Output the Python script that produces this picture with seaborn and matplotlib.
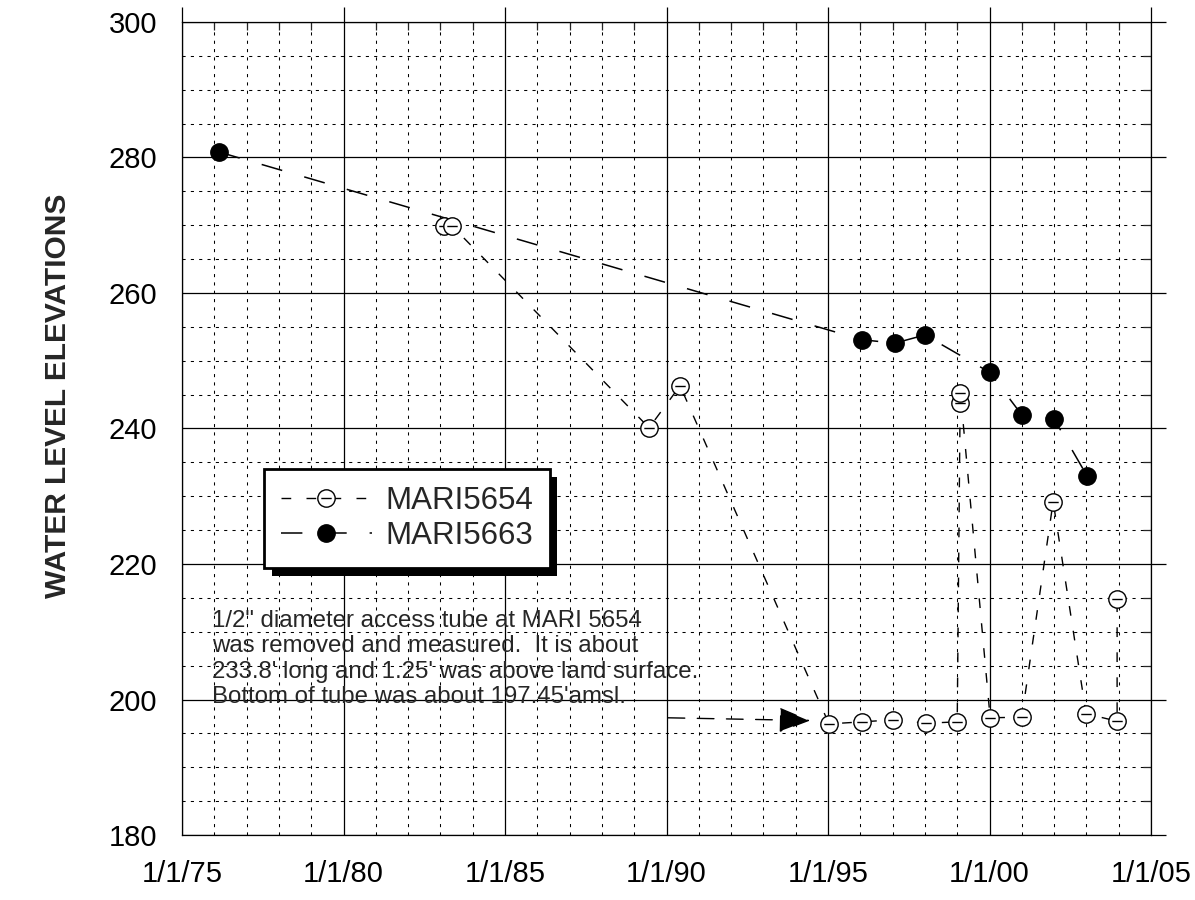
import numpy as np
import pandas as pd
import seaborn as sns
import matplotlib.pyplot as plt
from matplotlib.path import Path
from matplotlib.ticker import MultipleLocator
import matplotlib.patheffects as pe

# Data (decimal years, feet amsl)
well_5654_year = [1983.11, 1983.36, 1989.46, 1990.42, 1995.03, 1996.05, 1997.01,
                  1998.03, 1999.00, 1999.09, 1999.10, 2000.02, 2001.00, 2001.97,
                  2002.99, 2003.95, 2003.95]
well_5654_level = [269.9, 269.9, 240.1, 246.3, 196.4, 196.7, 197.0,
                   196.5, 196.7, 243.8, 245.2, 197.3, 197.4, 229.2,
                   197.9, 196.8, 214.8]

well_5663_year = [1976.15, 1996.05, 1997.07, 1998.00, 2000.00, 2001.00, 2002.00, 2003.02]
well_5663_level = [280.8, 253.1, 252.6, 253.8, 248.3, 242.0, 241.4, 233.0]

x_ticks = [1975, 1980, 1985, 1990, 1995, 2000, 2005]
x_tick_labels = ['1/1/75', '1/1/80', '1/1/85', '1/1/90', '1/1/95', '1/1/00', '1/1/05']
y_ticks = [180, 200, 220, 240, 260, 280, 300]

note = ("1/2\" diameter access tube at MARI 5654\n"
        "was removed and measured.  It is about\n"
        "233.8' long and 1.25' was above land surface.\n"
        "Bottom of tube was about 197.45'amsl.")

sns.set_style('white')
plt.rcParams['font.family'] = ['Liberation Sans', 'DejaVu Sans']

df5654 = pd.DataFrame({'year': well_5654_year, 'level': well_5654_level})
df5663 = pd.DataFrame({'year': well_5663_year, 'level': well_5663_level})

# circle with a bar through it
theta_marker = Path.make_compound_path(
    Path.unit_circle(),
    Path([[-0.6, 0.0], [0.6, 0.0]], [Path.MOVETO, Path.LINETO]))

fig = plt.figure(figsize=(11.95, 9), dpi=100)
ax = fig.add_axes([0.1523, 0.0722, 0.8109, 0.9034])

sns.lineplot(data=df5663, x='year', y='level', sort=False, estimator=None, ax=ax,
             color='black', lw=1.1, linestyle=(0, (14, 15)),
             marker='o', markersize=12.5, markerfacecolor='black',
             markeredgecolor='black', markeredgewidth=1, label='MARI5663', legend=False)
sns.lineplot(data=df5654, x='year', y='level', sort=False, estimator=None, ax=ax,
             color='black', lw=1.0, linestyle=(0, (7, 11)),
             marker=theta_marker, markersize=12.5, markerfacecolor='white',
             markeredgecolor='black', markeredgewidth=1, label='MARI5654', legend=False)

ax.set_xlim(1975, 2005)
ax.set_ylim(180, 300)
ax.set_xticks(x_ticks)
ax.set_xticklabels(x_tick_labels)
ax.set_yticks(y_ticks)
ax.xaxis.set_minor_locator(MultipleLocator(1))
ax.yaxis.set_minor_locator(MultipleLocator(5))

ax.set_axisbelow(True)
ax.grid(which='major', color='black', lw=0.9, ls='-')
ax.grid(which='minor', color='black', lw=0.75, ls=(0, (3, 5)))

ax.tick_params(which='major', direction='out', length=11, width=0.9,
               top=True, right=True, labelsize=21, pad=7, colors='black')
ax.tick_params(which='minor', direction='in', length=5.5, width=0.9,
               top=True, right=True)
for s in ax.spines.values():
    s.set_color('black')
    s.set_linewidth(0.9)

ax.set_xlabel('')
ax.set_ylabel('WATER LEVEL ELEVATIONS', fontsize=21.5, fontweight='bold')
ax.yaxis.set_label_coords(-0.114, 0.54)

# note and arrow pointing at the low readings
ax.text(1975.93, 206.0, note, fontsize=17.3, va='center', ha='left', linespacing=1.2)
ax.annotate('', xy=(1994.45, 196.9), xytext=(1990.05, 197.3),
            arrowprops=dict(arrowstyle='-|>,head_length=1.0,head_width=0.4',
                            mutation_scale=20, lw=1.0, color='black',
                            linestyle=(0, (12, 9)), shrinkA=0, shrinkB=0))

h, l = ax.get_legend_handles_labels()
order = [l.index('MARI5654'), l.index('MARI5663')]
leg = ax.legend([h[i] for i in order], [l[i] for i in order],
                loc='upper left', bbox_to_anchor=(0.0846, 0.450), borderaxespad=0,
                fontsize=22.5, frameon=True, fancybox=False, framealpha=1,
                edgecolor='black', handlelength=2.9, handletextpad=0.42,
                labelspacing=0.15, borderpad=0.55)
leg.get_frame().set_linewidth(2)
leg.get_frame().set_path_effects([
    pe.SimplePatchShadow(offset=(5.5, -5.5), shadow_rgbFace='black', alpha=1.0),
    pe.Normal()])

plt.savefig('out.png', dpi=100)
plt.close()
